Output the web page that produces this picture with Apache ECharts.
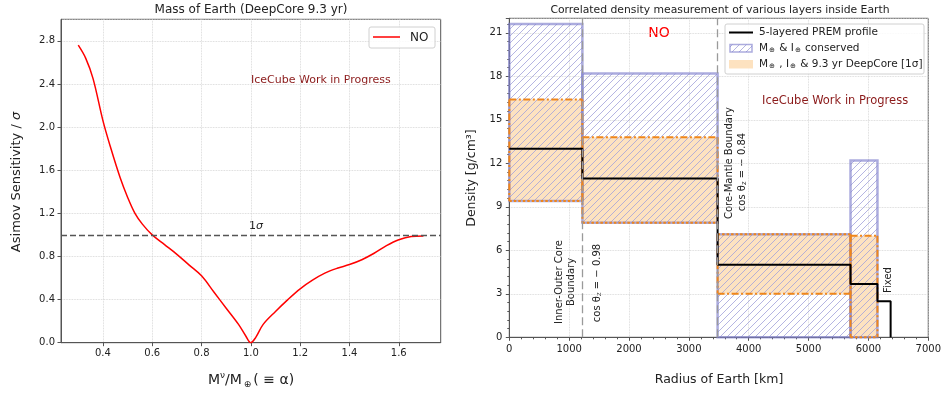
<!DOCTYPE html>
<html><head><meta charset="utf-8">
<script src="https://cdn.jsdelivr.net/npm/echarts@6/dist/echarts.min.js"></script>
<style>html,body{margin:0;padding:0;background:#fff}#c{width:944px;height:394px}</style>
</head><body><div id="c"></div>
<script>
// ---------- Left panel data ----------
const alphaValues = [0.30,0.33,0.36,0.40,0.43,0.47,0.50,0.53,0.56,0.60,0.65,0.70,0.75,0.80,0.85,0.90,0.95,0.98,1.00,1.02,1.05,1.10,1.15,1.20,1.25,1.30,1.35,1.40,1.45,1.50,1.55,1.60,1.65,1.70];
const sensitivityNO = [2.76,2.64,2.45,2.06,1.82,1.53,1.35,1.20,1.10,1.00,0.91,0.82,0.72,0.62,0.47,0.32,0.17,0.06,0.0,0.05,0.17,0.29,0.40,0.50,0.58,0.645,0.69,0.725,0.77,0.83,0.90,0.955,0.985,0.99];
const leftXTicks = [0.4,0.6,0.8,1.0,1.2,1.4,1.6];
const oneSigma = 1.0;

// ---------- Right panel data ----------
const layerEdges = [0,1221,3480,5701,6151,6371];
const premDensity = [13.0,10.95,5.0,3.68,2.48];
const conservedLow  = [9.4,7.9,0,0];
const conservedHigh = [21.6,18.2,7.1,12.2];
const deepcoreLow   = [9.4,7.9,3.0,0];
const deepcoreHigh  = [16.4,13.8,7.1,7.0];
const boundaryRadii = [1221,3480];

const FONT = 'DejaVu Sans';
const chart = echarts.init(document.getElementById('c'));

function hatchCanvas(){
  const s=7, c=document.createElement('canvas'); c.width=s; c.height=s;
  const g=c.getContext('2d'); g.strokeStyle='#a2a2db'; g.lineWidth=0.8;
  g.beginPath(); g.moveTo(0,s); g.lineTo(s,0); g.moveTo(-1,1); g.lineTo(1,-1); g.moveTo(s-1,s+1); g.lineTo(s+1,s-1); g.stroke();
  return c;
}
const hatch = {image: hatchCanvas(), repeat:'repeat'};
const ORANGE = '#f0861a', PEACH = '#fde2c0', BLUE_EDGE = 'rgba(128,128,205,0.65)';

const premPts = [];
premDensity.forEach((d,i)=>{ premPts.push([layerEdges[i],d],[layerEdges[i+1],d]); });
premPts.push([layerEdges[layerEdges.length-1],0]);

const consRects = conservedLow.map((v,i)=>[layerEdges[i],layerEdges[i+1],conservedLow[i],conservedHigh[i]]);
const dcRects = deepcoreLow.map((v,i)=>[layerEdges[i],layerEdges[i+1],deepcoreLow[i],deepcoreHigh[i]]);

function rectOf(api){
  const a = api.coord([api.value(0), api.value(3)]);
  const b = api.coord([api.value(1), api.value(2)]);
  return {x:a[0], y:a[1], width:b[0]-a[0], height:b[1]-a[1]};
}

const axisLineStyle = {color:'#555', width:1};
const splitLineStyle = {type:'dotted', color:'#cfcfcf', width:0.8};
const labelStyle = {color:'#222', fontSize:10, fontFamily:FONT};

const option = {
  animation:false,
  grid:[
    {left:61, top:19.3, right:503.3, bottom:51.3, show:true, borderColor:'#555', borderWidth:1, containLabel:false},
    {left:509.3, top:18.3, right:14, bottom:56.7, show:true, borderColor:'#555', borderWidth:1, containLabel:false}
  ],
  xAxis:[
    {gridIndex:0, type:'value', min:0.23, max:1.77,
     axisLine:{show:true, lineStyle:axisLineStyle},
     axisTick:{show:true, length:3.5, customValues:leftXTicks, lineStyle:axisLineStyle},
     axisLabel:Object.assign({customValues:leftXTicks, margin:6, formatter:v=>v.toFixed(1)}, labelStyle),
     splitLine:{show:true, lineStyle:splitLineStyle}},
    {gridIndex:1, type:'value', min:0, max:7000, interval:1000,
     axisLine:{show:true, lineStyle:axisLineStyle},
     axisTick:{show:true, length:3.5, lineStyle:axisLineStyle},
     minorTick:{show:true, splitNumber:5, length:2, lineStyle:axisLineStyle},
     axisLabel:Object.assign({margin:7, formatter:v=>String(v)}, labelStyle),
     splitLine:{show:true, lineStyle:splitLineStyle}}
  ],
  yAxis:[
    {gridIndex:0, type:'value', min:0, max:3.0, interval:0.4,
     axisLine:{show:true, lineStyle:axisLineStyle},
     axisTick:{show:true, length:3.5, lineStyle:axisLineStyle},
     axisLabel:Object.assign({margin:6, showMaxLabel:false, formatter:v=>v.toFixed(1)}, labelStyle),
     splitLine:{show:true, lineStyle:splitLineStyle}},
    {gridIndex:1, type:'value', min:0, max:22, interval:3,
     axisLine:{show:true, lineStyle:axisLineStyle},
     axisTick:{show:true, length:3.5, lineStyle:axisLineStyle},
     minorTick:{show:true, splitNumber:5, length:2, lineStyle:axisLineStyle},
     axisLabel:Object.assign({margin:7, showMaxLabel:false, formatter:v=>String(v)}, labelStyle),
     splitLine:{show:true, lineStyle:splitLineStyle}}
  ],
  series:[
    {type:'line', xAxisIndex:0, yAxisIndex:0, data:alphaValues.map((a,i)=>[a,sensitivityNO[i]]),
     smooth:0.35, showSymbol:false, lineStyle:{color:'#ff0000', width:1.5}, z:3,
     markLine:{silent:true, symbol:'none', label:{show:false}, lineStyle:{color:'#555', type:[6,3], width:1.3},
       data:[{yAxis:oneSigma}]}},
    {type:'custom', xAxisIndex:1, yAxisIndex:1, data:dcRects, encode:{x:[0,1], y:[2,3]}, z:1,
     renderItem:(p,api)=>({type:'rect', shape:rectOf(api), style:{fill:PEACH}}),
     markLine:{silent:true, symbol:'none', label:{show:false}, lineStyle:{color:'#9a9a9a', type:[8,4], width:1.3},
       data:boundaryRadii.map(r=>({xAxis:r}))}},
    {type:'custom', xAxisIndex:1, yAxisIndex:1, data:consRects, encode:{x:[0,1], y:[2,3]}, z:2,
     renderItem:(p,api)=>({type:'rect', shape:rectOf(api), style:{fill:hatch, stroke:BLUE_EDGE, lineWidth:2.5}})},
    {type:'custom', xAxisIndex:1, yAxisIndex:1, data:dcRects, encode:{x:[0,1], y:[2,3]}, z:3,
     renderItem:(p,api)=>{
       const i=p.dataIndex, r=rectOf(api);
       const hiSame = api.value(3)===conservedHigh[i], loSame = api.value(2)===conservedLow[i];
       const dd=[7,2.5,2,2.5], dot=[2.5,2];
       const st=d=>({stroke:ORANGE, lineWidth:2, lineDash:d, fill:null});
       const x0=r.x, x1=r.x+r.width, y0=r.y, y1=r.y+r.height;
       return {type:'group', children:[
         {type:'line', shape:{x1:x0,y1:y0,x2:x1,y2:y0}, style:st(hiSame?dot:dd)},
         {type:'line', shape:{x1:x0,y1:y1,x2:x1,y2:y1}, style:st(loSame?dot:dd)},
         {type:'line', shape:{x1:x0,y1:y0,x2:x0,y2:y1}, style:st(dd)},
         {type:'line', shape:{x1:x1,y1:y0,x2:x1,y2:y1}, style:st(dd)}
       ]};
     }},
    {type:'line', xAxisIndex:1, yAxisIndex:1, data:premPts, showSymbol:false, smooth:false,
     lineStyle:{color:'#000', width:2}, z:4}
  ],
  graphic:[
    // titles
    {type:'text', x:251, y:10, style:{text:'Mass of Earth (DeepCore 9.3 yr)', font:'12px '+FONT, fill:'#222', align:'center', verticalAlign:'middle'}},
    {type:'text', x:720, y:10, style:{text:'Correlated density measurement of various layers inside Earth', font:'10.8px '+FONT, fill:'#222', align:'center', verticalAlign:'middle'}},
    // left axis titles
    {type:'text', x:251, y:380, style:{text:'M{sup|ν}/M{sub|⊕}( ≡ α)', font:'14px '+FONT, fill:'#222', align:'center', verticalAlign:'middle',
      rich:{sup:{fontSize:9, fontFamily:FONT, verticalAlign:'top', lineHeight:18, fill:'#222'}, sub:{fontSize:9, fontFamily:FONT, verticalAlign:'bottom', lineHeight:14, padding:[6,2,0,2], fill:'#222'}}}},
    {type:'text', x:17, y:182, rotation:Math.PI/2, style:{text:'Asimov Sensitivity / {i|σ}', font:'13px '+FONT, fill:'#222', align:'center', verticalAlign:'middle',
      rich:{i:{fontSize:13, fontStyle:'italic', fontFamily:FONT, fill:'#222'}}}},
    {type:'text', x:256, y:226, style:{text:'1{i|σ}', font:'11px '+FONT, fill:'#222', align:'center', verticalAlign:'middle', rich:{i:{fontSize:11, fontStyle:'italic', fontFamily:FONT, fill:'#222'}}}},
    {type:'text', x:251, y:80, style:{text:'IceCube Work in Progress', font:'11px '+FONT, fill:'#8b1a1a', align:'left', verticalAlign:'middle'}},
    // left legend
    {type:'rect', shape:{x:369, y:27, width:66, height:21, r:2}, style:{fill:'rgba(255,255,255,0.85)', stroke:'#d0d0d0', lineWidth:1}, z:10},
    {type:'line', shape:{x1:373, y1:37, x2:400, y2:37}, style:{stroke:'#ff0000', lineWidth:1.5}, z:11},
    {type:'text', x:410, y:37.5, style:{text:'NO', font:'12px '+FONT, fill:'#222', verticalAlign:'middle'}, z:11},
    // right axis titles
    {type:'text', x:719, y:380, style:{text:'Radius of Earth [km]', font:'12.5px '+FONT, fill:'#222', align:'center', verticalAlign:'middle'}},
    {type:'text', x:472, y:178, rotation:Math.PI/2, style:{text:'Density [g/cm³]', font:'12.5px '+FONT, fill:'#222', align:'center', verticalAlign:'middle'}},
    // right annotations
    {type:'text', x:659, y:33, style:{text:'NO', font:'14px '+FONT, fill:'#ff0000', align:'center', verticalAlign:'middle'}},
    {type:'text', x:762, y:101, style:{text:'IceCube Work in Progress', font:'11.5px '+FONT, fill:'#8b1a1a', verticalAlign:'middle'}},
    {type:'text', x:565.5, y:282, rotation:Math.PI/2, style:{text:'Inner-Outer Core\nBoundary', font:'10px '+FONT, fill:'#222', align:'center', verticalAlign:'middle', lineHeight:12.5}},
    {type:'text', x:597, y:283, rotation:Math.PI/2, style:{text:'cos θ{sub|z} = − 0.98', font:'10px '+FONT, fill:'#222', align:'center', verticalAlign:'middle',
      rich:{sub:{fontSize:7, fontFamily:FONT, verticalAlign:'bottom', padding:[4,0,0,0], fill:'#222'}}}},
    {type:'text', x:729.5, y:163, rotation:Math.PI/2, style:{text:'Core-Mantle Boundary', font:'10px '+FONT, fill:'#222', align:'center', verticalAlign:'middle'}},
    {type:'text', x:742, y:172, rotation:Math.PI/2, style:{text:'cos θ{sub|z} = − 0.84', font:'10px '+FONT, fill:'#222', align:'center', verticalAlign:'middle',
      rich:{sub:{fontSize:7, fontFamily:FONT, verticalAlign:'bottom', padding:[4,0,0,0], fill:'#222'}}}},
    {type:'text', x:888, y:280, rotation:Math.PI/2, style:{text:'Fixed', font:'10px '+FONT, fill:'#222', align:'center', verticalAlign:'middle'}},
    // right legend
    {type:'rect', shape:{x:725, y:24, width:199, height:50, r:2}, style:{fill:'rgba(255,255,255,0.85)', stroke:'#d0d0d0', lineWidth:1}, z:10},
    {type:'line', shape:{x1:729, y1:32.5, x2:753, y2:32.5}, style:{stroke:'#000', lineWidth:2}, z:11},
    {type:'text', x:759, y:32.5, style:{text:'5-layered PREM profile', font:'10.5px '+FONT, fill:'#222', verticalAlign:'middle'}, z:11},
    {type:'rect', shape:{x:730, y:44.5, width:22, height:7.5}, style:{fill:hatch, stroke:BLUE_EDGE, lineWidth:1.5}, z:11},
    {type:'text', x:759, y:48.5, style:{text:'M{sub|⊕} & I{sub|⊕} conserved', font:'10.5px '+FONT, fill:'#222', verticalAlign:'middle',
      rich:{sub:{fontSize:7, fontFamily:FONT, verticalAlign:'bottom', padding:[4,1,0,1], fill:'#222'}}}, z:11},
    {type:'rect', shape:{x:729, y:60, width:24, height:8.5}, style:{fill:PEACH}, z:11},
    {type:'text', x:759, y:64.5, style:{text:'M{sub|⊕} , I{sub|⊕} & 9.3 yr DeepCore [1σ]', font:'10.5px '+FONT, fill:'#222', verticalAlign:'middle',
      rich:{sub:{fontSize:7, fontFamily:FONT, verticalAlign:'bottom', padding:[4,1,0,1], fill:'#222'}}}, z:11}
  ]
};
chart.setOption(option);
</script>
</body></html>
